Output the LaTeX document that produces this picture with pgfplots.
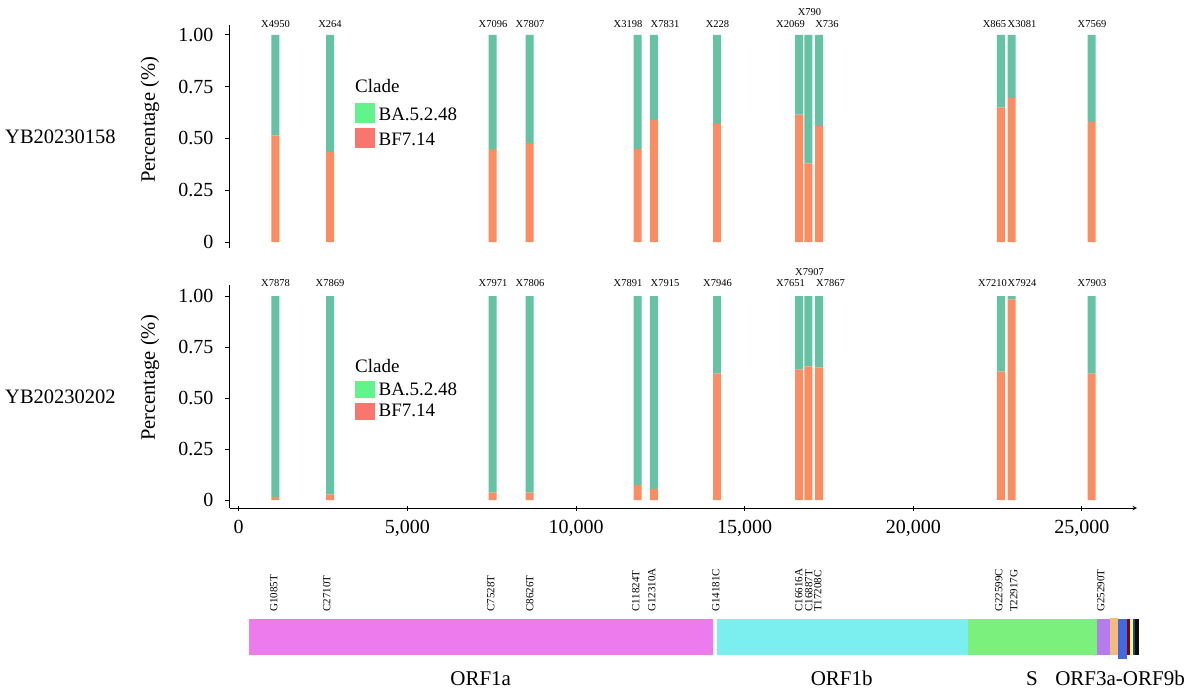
\documentclass[border=0pt]{standalone}
\usepackage{fontspec}
\setmainfont{Liberation Serif}
\usepackage{pgfplots}
\usepackage{pgfplotstable}
\pgfplotsset{compat=1.18}

\definecolor{tealb}{HTML}{66C2A5}
\definecolor{orgb}{HTML}{FC8D62}
\definecolor{legG}{HTML}{61F48B}
\definecolor{legR}{HTML}{F8766D}
\definecolor{gORFa}{HTML}{EE7BEE}
\definecolor{gORFb}{HTML}{7BEFEF}
\definecolor{gS}{HTML}{7CF07C}
\definecolor{gP}{HTML}{B57CEE}
\definecolor{gO}{HTML}{F4BC7C}
\definecolor{gB}{HTML}{4169E1}
\definecolor{gDR}{HTML}{8B0000}
\definecolor{gY}{HTML}{F7F78A}
\definecolor{gN}{HTML}{104E8B}
\definecolor{gK}{HTML}{0F0A05}

\pgfplotstableread{
pos bf ba
1085 0.515 0.485
2710 0.435 0.565
7528 0.450 0.550
8626 0.478 0.522
11824 0.450 0.550
12310 0.590 0.410
14181 0.570 0.430
16616 0.615 0.385
16887 0.380 0.620
17208 0.560 0.440
22599 0.650 0.350
22917 0.695 0.305
25290 0.580 0.420
}\topdata

\pgfplotstableread{
pos bf ba
1085 0.015 0.985
2710 0.028 0.972
7528 0.036 0.964
8626 0.036 0.964
11824 0.075 0.925
12310 0.055 0.945
14181 0.620 0.380
16616 0.640 0.360
16887 0.655 0.345
17208 0.650 0.350
22599 0.630 0.370
22917 0.984 0.016
25290 0.620 0.380
}\botdata

\tikzset{barlab/.style={font=\fontsize{10.5}{12}\selectfont, anchor=center}}

\pgfplotsset{
  panel/.style={
    width=907pt, height=223pt, scale only axis, clip=false,
    xmin=-258, xmax=26632,
    axis y line=left, axis line style={-, line width=1pt, black},
    ytick={0,0.25,0.5,0.75,1}, yticklabels={0,0.25,0.50,0.75,1.00},
    tick align=outside, major tick length=5pt,
    tick style={line width=1pt, black},
    every tick label/.append style={font=\fontsize{20}{24}\selectfont},
    yticklabel style={xshift=-8pt},
    scaled x ticks=false,
    ybar stacked, bar width=237,
    legend style={draw=none, fill=none, inner sep=0pt, row sep=0pt,
      font=\fontsize{19}{23}\selectfont},
    legend cell align=left,
  },
  sqa/.style={legend image code/.code={\fill[#1] (0pt,-6.45pt) rectangle (19pt,12.55pt);}},
  sqb/.style={legend image code/.code={\fill[#1] (0pt,-7.15pt) rectangle (19pt,9.15pt);}},
}

\begin{document}
\begin{tikzpicture}
\useasboundingbox (0pt,0pt) rectangle (1194pt,-689pt);

% ---------------- top panel ----------------
\begin{axis}[panel, at={(230pt,-248pt)}, anchor=south west,
  ymin=-0.029, ymax=1.048, axis x line=none,
  legend style={at={(axis description cs:0.1378,0.6525)}, anchor=north west,
    nodes={text height=13.5pt, text depth=4pt, inner sep=4pt}}]
\addplot[fill=orgb, draw=none, forget plot] table[x=pos,y=bf]{\topdata};
\addplot[fill=tealb, draw=none, forget plot] table[x=pos,y=ba]{\topdata};
\addlegendimage{sqa=legG}\addlegendentry{BA.5.2.48}
\addlegendimage{sqa=legR}\addlegendentry{BF7.14}
\node[anchor=base west, inner sep=0pt, font=\fontsize{19}{23}\selectfont] at (axis cs:3448,0.723) {Clade};
\node[barlab] at (axis cs:1091,1.053) {X4950};
\node[barlab] at (axis cs:2707,1.053) {X264};
\node[barlab] at (axis cs:7539,1.053) {X7096};
\node[barlab] at (axis cs:8636,1.053) {X7807};
\node[barlab] at (axis cs:11542,1.053) {X3198};
\node[barlab] at (axis cs:12639,1.053) {X7831};
\node[barlab] at (axis cs:14195,1.053) {X228};
\node[barlab] at (axis cs:16359,1.053) {X2069};
\node[barlab] at (axis cs:16923,1.111) {X790};
\node[barlab] at (axis cs:17442,1.053) {X736};
\node[barlab] at (axis cs:22407,1.053) {X865};
\node[barlab] at (axis cs:23222,1.053) {X3081};
\node[barlab] at (axis cs:25298,1.053) {X7569};
\node[rotate=90, anchor=center, font=\fontsize{20.5}{24}\selectfont] at (axis cs:-2630,0.59) {Percentage (\%)};
\node[anchor=west, inner sep=0pt, font=\fontsize{20.5}{24}\selectfont] at (axis cs:-6928,0.507) {YB20230158};
\end{axis}

% ---------------- bottom panel ----------------
\begin{axis}[panel, at={(230pt,-508pt)}, anchor=south west,
  ymin=-0.039, ymax=1.054, axis x line=bottom,
  xtick={0,5000,10000,15000,20000,25000},
  xticklabels={0,{5,000},{10,000},{15,000},{20,000},{25,000}},
  xticklabel style={yshift=-6pt},
  legend style={at={(axis description cs:0.1378,0.577)}, anchor=north west,
    nodes={text height=11.7pt, text depth=2pt, inner sep=4pt}}]
\addplot[fill=orgb, draw=none, forget plot] table[x=pos,y=bf]{\botdata};
\addplot[fill=tealb, draw=none, forget plot] table[x=pos,y=ba]{\botdata};
\addlegendimage{sqb=legG}\addlegendentry{BA.5.2.48}
\addlegendimage{sqb=legR}\addlegendentry{BF7.14}
\node[anchor=base west, inner sep=0pt, font=\fontsize{19}{23}\selectfont] at (axis cs:3448,0.626) {Clade};
\node[barlab] at (axis cs:1091,1.064) {X7878};
\node[barlab] at (axis cs:2707,1.064) {X7869};
\node[barlab] at (axis cs:7539,1.064) {X7971};
\node[barlab] at (axis cs:8636,1.064) {X7806};
\node[barlab] at (axis cs:11542,1.064) {X7891};
\node[barlab] at (axis cs:12639,1.064) {X7915};
\node[barlab] at (axis cs:14195,1.064) {X7946};
\node[barlab] at (axis cs:16359,1.064) {X7651};
\node[barlab] at (axis cs:16923,1.118) {X7907};
\node[barlab] at (axis cs:17546,1.064) {X7867};
\node[barlab] at (axis cs:22348,1.064) {X7210};
\node[barlab] at (axis cs:23222,1.064) {X7924};
\node[barlab] at (axis cs:25298,1.064) {X7903};
\node[rotate=90, anchor=center, font=\fontsize{20.5}{24}\selectfont] at (axis cs:-2630,0.598) {Percentage (\%)};
\node[anchor=west, inner sep=0pt, font=\fontsize{20.5}{24}\selectfont] at (axis cs:-6928,0.505) {YB20230202};
\end{axis}

% ---------------- genome annotation ----------------
\begin{axis}[at={(230pt,-689pt)}, anchor=south west,
  width=907pt, height=129pt, scale only axis, clip=false, hide axis,
  xmin=-258, xmax=26632, ymin=0, ymax=129]
\addplot[fill=gORFa, draw=none] coordinates {(305,34) (14065,34) (14065,70) (305,70)} -- cycle;
\addplot[fill=gORFb, draw=none] coordinates {(14190,34) (21615,34) (21615,70) (14190,70)} -- cycle;
\addplot[fill=gS, draw=none] coordinates {(21615,34) (25457,34) (25457,70) (21615,70)} -- cycle;
\addplot[fill=gP, draw=none] coordinates {(25457,34) (25825,34) (25825,70) (25457,70)} -- cycle;
\addplot[fill=gO, draw=none] coordinates {(25825,34) (26063,34) (26063,70.8) (25825,70.8)} -- cycle;
\addplot[fill=gB, draw=none] coordinates {(26063,30.5) (26330,30.5) (26330,70) (26063,70)} -- cycle;
\addplot[fill=gDR, draw=none] coordinates {(26330,34) (26430,34) (26430,70) (26330,70)} -- cycle;
\addplot[fill=gY, draw=none] coordinates {(26430,34) (26527,34) (26527,70) (26430,70)} -- cycle;
\addplot[fill=gN, draw=none] coordinates {(26527,34) (26577,34) (26577,70) (26527,70)} -- cycle;
\addplot[fill=gK, draw=none] coordinates {(26577,34) (26700,34) (26700,70) (26577,70)} -- cycle;
\foreach \p/\t in {1076/G1085T, 2648/C2710T, 7510/C7528T, 8667/C8626T, 11810/C11824T, 12284/G12310A, 14180/G14181C, 16640/C16616A, 16937/C16887T, 17204/T17208C, 22570/G22599C, 23015/T22917G, 25594/G25290T}{
  \edef\temp{\noexpand\node[rotate=90, anchor=mid west, inner sep=0pt, font=\noexpand\fontsize{11}{13}\noexpand\selectfont] at (axis cs:\p,77) {\t};}
  \temp
}
\node[anchor=base, inner sep=0pt, font=\fontsize{21}{25}\selectfont] at (axis cs:7175,4) {ORF1a};
\node[anchor=base, inner sep=0pt, font=\fontsize{21}{25}\selectfont] at (axis cs:17877,4) {ORF1b};
\node[anchor=base, inner sep=0pt, font=\fontsize{21}{25}\selectfont] at (axis cs:23519,4) {S};
\node[anchor=base, inner sep=0pt, font=\fontsize{21}{25}\selectfont] at (axis cs:26128,4) {ORF3a-ORF9b};
\end{axis}
\end{tikzpicture}
\end{document}
